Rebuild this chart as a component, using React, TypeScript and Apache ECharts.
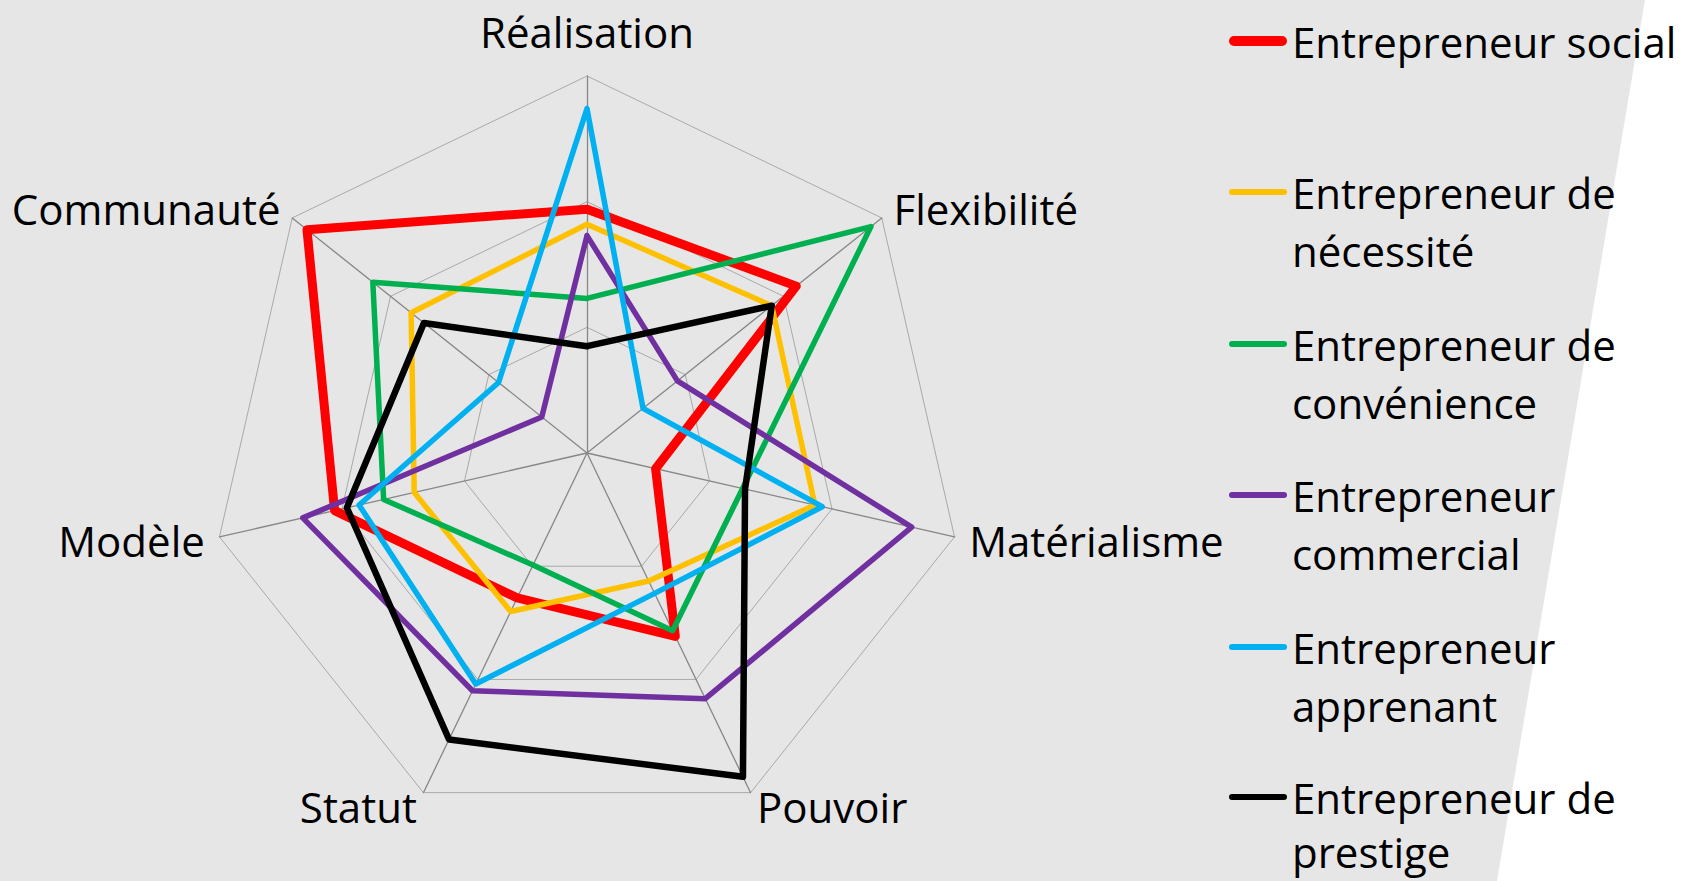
import React, { useEffect, useRef } from "react";
import * as echarts from "echarts";

// Indicators, clockwise from the top
const INDICATORS = ["Réalisation", "Flexibilité", "Matérialisme", "Pouvoir", "Statut", "Modèle", "Communauté"];
const MAX_VALUE = 3;

const SERIES_NAMES = [
  "Entrepreneur social",
  "Entrepreneur de nécessité",
  "Entrepreneur de convénience",
  "Entrepreneur commercial",
  "Entrepreneur apprenant",
  "Entrepreneur de prestige",
];
const LEGEND_LABELS = [
  "Entrepreneur social",
  "Entrepreneur de\nnécessité",
  "Entrepreneur de\nconvénience",
  "Entrepreneur\ncommercial",
  "Entrepreneur\napprenant",
  "Entrepreneur de\nprestige",
];

// values in INDICATORS order (clockwise)
const SOCIAL = [1.94, 2.13, 0.56, 1.62, 1.28, 2.06, 2.85];
const NECESSITE = [1.82, 1.88, 1.86, 1.13, 1.40, 1.41, 1.79];
const CONVENIENCE = [1.23, 2.89, 1.27, 1.57, 0.99, 1.66, 2.18];
const COMMERCIAL = [1.73, 0.92, 2.65, 2.17, 2.10, 2.32, 0.46];
const APPRENANT = [2.74, 0.57, 1.92, 1.24, 2.04, 1.86, 0.90];
const PRESTIGE = [0.85, 1.88, 1.29, 2.86, 2.53, 1.96, 1.66];

const VALUES = [SOCIAL, NECESSITE, CONVENIENCE, COMMERCIAL, APPRENANT, PRESTIGE];
const COLORS = ["#ff0000", "#ffc000", "#00b050", "#7030a0", "#00b0f0", "#000000"];
const WIDTHS = [9, 5.5, 5.5, 5.5, 5.5, 6.5];

const FONT = "'Open Sans', sans-serif";
const FS = 42;

export default function App() {
  const ref = useRef<HTMLDivElement>(null);
  useEffect(() => {
    if (!ref.current) return;
    const chart = echarts.init(ref.current, undefined, { renderer: "svg" });
    // ECharts radar runs counter-clockwise: reorder clockwise data
    const order = [0, 6, 5, 4, 3, 2, 1];
    const indicator = order.map((i) => ({ name: INDICATORS[i], max: MAX_VALUE, min: 0 }));

    const legendCenters = [41, 192, 344, 495, 647, 797];
    const lineHeights = [58, 58, 58, 58, 58, 54];
    const legends = SERIES_NAMES.map((name, i) => {
      const two = LEGEND_LABELS[i].includes("\n");
      const lh = lineHeights[i];
      const h = i === 0 ? 10 : 6;
      const r = h / 2;
      const w = 58;
      return {
        show: true,
        orient: "vertical",
        left: 1229,
        top: legendCenters[i] - (two ? lh * 1.5 : lh / 2),
        padding: 0,
        itemWidth: w,
        itemHeight: h,
        selectedMode: false,
        data: [
          {
            name,
            icon: `path://M${r},0H${w - r}A${r},${r} 0 0 1 ${w - r},${h}H${r}A${r},${r} 0 0 1 ${r},0Z`,
          },
        ],
        // a leading blank line keeps the icon level with the first text line
        formatter: () => (two ? " \n" + LEGEND_LABELS[i] : LEGEND_LABELS[i]),
        textStyle: {
          fontSize: FS,
          fontFamily: FONT,
          color: "#000",
          lineHeight: lh,
        },
      };
    });

    chart.setOption({
      animation: false,
      backgroundColor: "#ffffff",
      graphic: [
        {
          type: "polygon",
          z: -10,
          silent: true,
          shape: { points: [[0, 0], [1645, 0], [1497, 881], [0, 881]] },
          style: { fill: "#e6e6e6" },
        },
      ],
      legend: legends,
      radar: {
        center: [587, 453],
        radius: 377,
        startAngle: 90,
        splitNumber: 3,
        shape: "polygon",
        nameGap: 15,
        indicator,
        axisName: {
          color: "#000",
          fontSize: FS,
          fontFamily: FONT,
          formatter: (n: string) => (n === "Réalisation" ? `{top|${n}}` : n),
          rich: {
            top: {
              fontSize: FS,
              fontFamily: FONT,
              color: "#000",
              lineHeight: 40,
              padding: [0, 0, 20, 0],
            },
          },
        },
        axisLine: { lineStyle: { color: "#878787", width: 1.3 } },
        splitLine: { lineStyle: { color: "#a9a9a9", width: 1 } },
        splitArea: { show: false },
        axisTick: { show: false },
        axisLabel: { show: false },
      },
      series: [
        {
          type: "radar",
          symbol: "none",
          data: SERIES_NAMES.map((name, i) => ({
            name,
            value: order.map((k) => VALUES[i][k]),
            itemStyle: { color: COLORS[i] },
            lineStyle: { color: COLORS[i], width: WIDTHS[i], join: "round", cap: "round" },
          })),
        },
      ],
    });
    return () => chart.dispose();
  }, []);
  return (
    <div
      ref={ref}
      style={{ position: "absolute", left: 0, top: 0, width: 1692, height: 881 }}
    />
  );
}
